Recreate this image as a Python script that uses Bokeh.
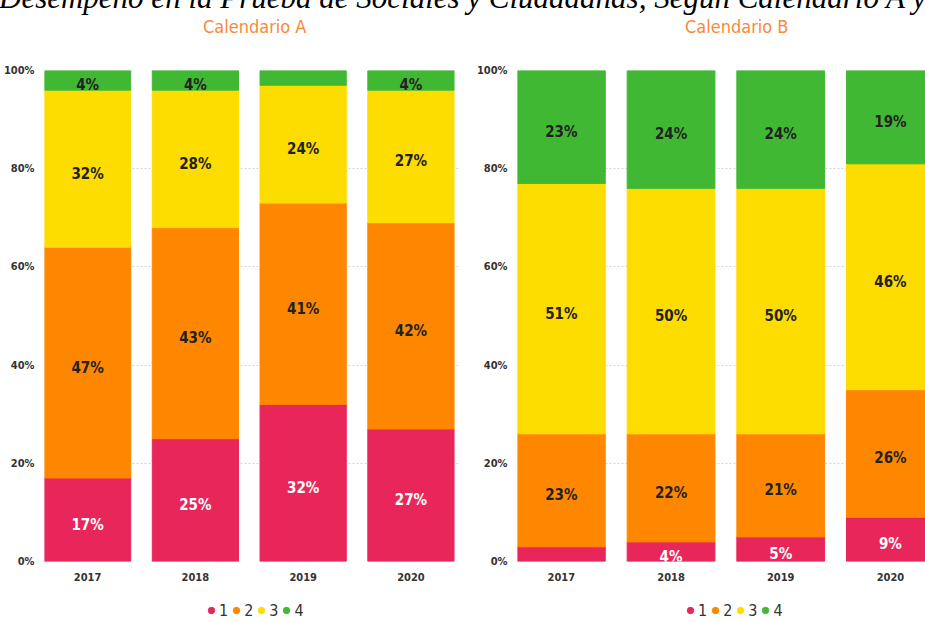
from bokeh.plotting import figure
from bokeh.models import (Div, Range1d, FixedTicker, PrintfTickFormatter, Legend,
                          LegendItem, ColumnDataSource)
from bokeh.layouts import column, row
from bokeh.core.properties import value
from bokeh.embed import file_html
from bokeh.resources import INLINE

# ---------------- data ----------------
years = ["2017", "2018", "2019", "2020"]
levels = ["1", "2", "3", "4"]

cal_a_1 = [17, 25, 32, 27]
cal_a_2 = [47, 43, 41, 42]
cal_a_3 = [32, 28, 24, 27]
cal_a_4 = [4, 4, 3, 4]

cal_b_1 = [3, 4, 5, 9]
cal_b_2 = [23, 22, 21, 26]
cal_b_3 = [51, 50, 50, 46]
cal_b_4 = [23, 24, 24, 19]

y_ticks = [0, 20, 40, 60, 80, 100]

main_title = "Desempeño en la Prueba de Sociales y Ciudadanas, Según Calendario A y B"
panel_titles = ["Calendario A", "Calendario B"]

colors = ["#E8265A", "#FF8700", "#FDDC00", "#40B834"]
label_colors = ["#FFFFFF", "#222222", "#222222", "#222222"]
FONT = "DejaVu Sans Condensed, Roboto"


def make_panel(vals, width, border_left, border_right, x_end):
    p = figure(width=width, height=550, x_range=Range1d(-0.4, x_end), y_range=Range1d(0, 100),
               output_backend="svg", toolbar_location=None,
               min_border_left=border_left, min_border_right=border_right,
               min_border_top=28, min_border_bottom=31)
    p.outline_line_color = None
    p.background_fill_color = "white"

    data = {"x": list(range(len(years)))}
    for lvl, v in zip(levels, vals):
        data[lvl] = v
    src = ColumnDataSource(data)
    p.vbar_stack(levels, x="x", width=0.8, color=colors, line_color=colors, source=src)

    lx, ly, lt, lc = [], [], [], []
    for i in range(len(years)):
        base = 0
        for j in range(len(levels)):
            v = vals[j][i]
            if v >= 4:
                lx.append(i)
                ly.append(base + v / 2)
                lt.append(f"{v}%")
                lc.append(label_colors[j])
            base += v
    p.text(x=lx, y=ly, text=lt, text_color=lc, text_align="center", text_baseline="middle",
           text_font=value(FONT), text_font_size="15px", text_font_style="bold", y_offset=5)

    # axes
    p.xaxis.ticker = FixedTicker(ticks=list(range(len(years))))
    p.xaxis.major_label_overrides = {i: y for i, y in enumerate(years)}
    p.yaxis.ticker = FixedTicker(ticks=y_ticks)
    p.yaxis.formatter = PrintfTickFormatter(format="%d%%")
    for ax in (p.xaxis[0], p.yaxis[0]):
        ax.axis_line_color = None
        ax.major_tick_line_color = None
        ax.minor_tick_line_color = None
        ax.major_label_text_font = FONT
        ax.major_label_text_font_size = "11px"
        ax.major_label_text_font_style = "bold"
        ax.major_label_text_color = "#333333"
    p.xaxis.major_label_standoff = 5
    p.yaxis.major_label_standoff = 4

    p.xgrid.grid_line_color = None
    p.ygrid.grid_line_color = "#d4d4d4"
    p.ygrid.grid_line_dash = "2 2"
    p.ygrid.ticker = FixedTicker(ticks=y_ticks)
    return p


def make_legend(width, legend_x):
    q = figure(width=width, height=30, x_range=Range1d(0, 1), y_range=Range1d(0, 1),
               output_backend="svg", toolbar_location=None, min_border=0)
    q.axis.visible = False
    q.grid.visible = False
    q.outline_line_color = None
    items = []
    for lvl, c in zip(levels, colors):
        r = q.scatter(x=[float("nan")], y=[float("nan")], marker="circle", size=8, color=c)
        items.append(LegendItem(label=lvl, renderers=[r]))
    leg = Legend(items=items, orientation="horizontal", location=(legend_x, 1),
                 glyph_width=16, glyph_height=22, label_standoff=0, spacing=0,
                 label_width=8, padding=0, margin=0, border_line_color=None,
                 background_fill_alpha=0, label_text_font=FONT, label_text_font_size="16px",
                 label_text_color="#333333", label_height=20)
    q.add_layout(leg, "center")
    return q


pa = make_panel([cal_a_1, cal_a_2, cal_a_3, cal_a_4], width=470, border_left=40,
                border_right=10, x_end=3.46)
pb = make_panel([cal_b_1, cal_b_2, cal_b_3, cal_b_4], width=455, border_left=47,
                border_right=0, x_end=3.32)
la = make_legend(470, 203)
lb = make_legend(455, 212)

sub_style = ("position:absolute; top:16px; font-family:'DejaVu Sans Condensed', Roboto;"
             " font-size:18px; line-height:22px; color:#F7893B; white-space:nowrap;")
header_html = (
    '<div style="position:relative; width:925px; height:42px;">'
    '<div style="position:absolute; top:-16px; left:-1px; font-family:\'Liberation Serif\';'
    ' font-style:italic; font-size:31px; line-height:28px; white-space:nowrap; color:#000;">'
    + main_title + '</div>'
    f'<div style="{sub_style} left:203px;">{panel_titles[0]}</div>'
    f'<div style="{sub_style} left:685px;">{panel_titles[1]}</div>'
    '</div>'
)
header = Div(text=header_html, width=925, height=42, margin=0, styles={"overflow": "hidden"})

layout = column(header, row(pa, pb), row(la, lb))
open("out.html", "w").write(file_html(layout, INLINE))
